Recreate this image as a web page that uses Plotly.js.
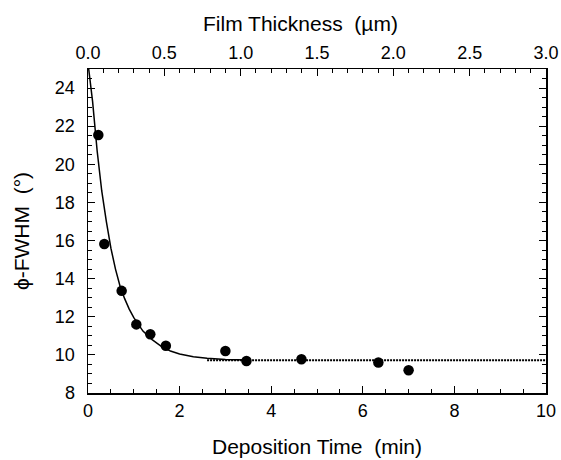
<!DOCTYPE html>
<html>
<head>
<meta charset="utf-8">
<script src="https://cdn.plot.ly/plotly-3.0.1.min.js"></script>
<style>html,body{margin:0;padding:0;background:#fff;}#chart{width:561px;height:460px;}</style>
</head>
<body>
<div id="chart"></div>
<script>
// Measured data points
const timeMin = [0.225, 0.356, 0.735, 1.055, 1.36, 1.70, 3.00, 3.46, 4.66, 6.34, 7.00];
const fwhmDeg = [21.54, 15.82, 13.36, 11.60, 11.08, 10.48, 10.20, 9.68, 9.77, 9.60, 9.19];

// Fit curve
const fitTime = [0.0, 0.1, 0.2, 0.3, 0.4, 0.5, 0.6, 0.7, 0.8, 0.9, 1.0, 1.2, 1.4, 1.6, 1.8, 2.0, 2.3, 2.6, 3.0, 3.5];
const fitFwhm = [25.3, 23.3, 20.7, 18.6, 17.0, 15.6, 14.5, 13.6, 12.95, 12.4, 11.95, 11.25, 10.8, 10.45, 10.2, 10.05, 9.9, 9.82, 9.76, 9.73];

// Asymptote (dotted)
const plateauTime = [2.6, 10];
const plateauFwhm = [9.72, 9.72];

// Axis ranges
const timeRange = [0, 10];
const thickRange = [0, 3];
const fwhmRange = [8, 25];

const font = {family: 'Liberation Sans, Arial, Helvetica, sans-serif', color: '#000'};

const traces = [
  {x: fitTime, y: fitFwhm, mode: 'lines', line: {color: '#000', width: 1.5}, hoverinfo: 'skip'},
  {x: plateauTime, y: plateauFwhm, mode: 'lines', line: {color: '#000', width: 2, dash: '2px,1px'}, hoverinfo: 'skip'},
  {x: timeMin, y: fwhmDeg, mode: 'markers', marker: {color: '#000', size: 10.5, symbol: 'circle'}},
  {x: [0], y: [8], xaxis: 'x2', mode: 'markers', marker: {opacity: 0}, hoverinfo: 'skip'}
];

const layout = {
  width: 561, height: 460,
  margin: {l: 88, r: 15, t: 69, b: 67},
  showlegend: false,
  paper_bgcolor: '#fff', plot_bgcolor: '#fff',
  font: Object.assign({size: 18}, font),
  xaxis: {
    range: timeRange, dtick: 2, tick0: 0,
    ticks: 'inside', ticklen: 7, tickwidth: 1, tickcolor: '#000',
    minor: {dtick: 0.5, ticks: 'inside', ticklen: 4, tickcolor: '#000', tickwidth: 1},
    showline: true, linecolor: '#000', linewidth: 1.5, mirror: false,
    showgrid: false, zeroline: false,
    tickfont: Object.assign({size: 18}, font),
    ticklabelstandoff: 1,
    title: {text: 'Deposition Time  (min)', font: Object.assign({size: 21}, font), standoff: 19}
  },
  xaxis2: {
    range: thickRange, dtick: 0.5, tick0: 0, tickformat: '.1f',
    overlaying: 'x', side: 'top', anchor: 'y',
    ticks: 'inside', ticklen: 7, tickwidth: 1, tickcolor: '#000',
    minor: {dtick: 0.1, ticks: 'inside', ticklen: 4, tickcolor: '#000', tickwidth: 1},
    showline: true, linecolor: '#000', linewidth: 1.5,
    showgrid: false, zeroline: false,
    tickfont: Object.assign({size: 18}, font),
    ticklabelstandoff: 1
  },
  yaxis: {
    range: fwhmRange, dtick: 2, tick0: 0,
    ticks: 'inside', ticklen: 7, tickwidth: 1, tickcolor: '#000',
    minor: {dtick: 0.5, ticks: 'inside', ticklen: 4, tickcolor: '#000', tickwidth: 1},
    showline: true, linecolor: '#000', linewidth: 1.5, mirror: 'ticks',
    showgrid: false, zeroline: false,
    tickfont: Object.assign({size: 18}, font),
    ticklabelstandoff: 8,
    title: {text: 'ϕ-FWHM  (°)', font: Object.assign({size: 21}, font), standoff: 19}
  },
  annotations: [{
    text: 'Film Thickness  (µm)', xref: 'paper', yref: 'paper',
    x: 0.463, y: 1, yshift: 46, xanchor: 'center', yanchor: 'middle',
    showarrow: false, font: Object.assign({size: 21}, font)
  }]
};

Plotly.newPlot('chart', traces, layout, {displayModeBar: false, staticPlot: true});
</script>
</body>
</html>
